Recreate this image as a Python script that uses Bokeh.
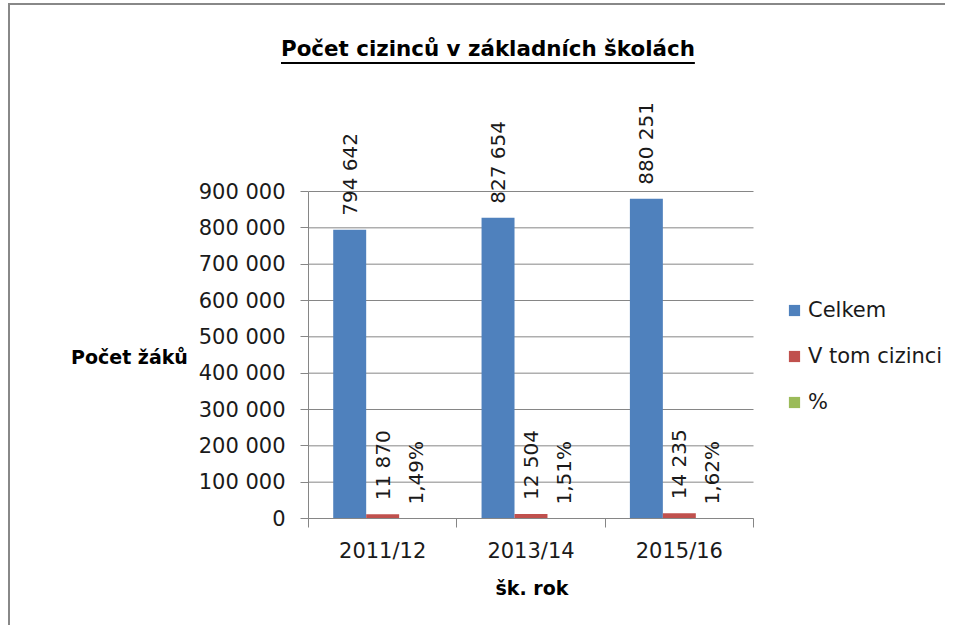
import math
from bokeh.plotting import figure
from bokeh.layouts import column, row
from bokeh.models import (FixedTicker, Legend, LegendItem, ColumnDataSource, Div, Title)
from bokeh.core.properties import value
from bokeh.embed import file_html
from bokeh.resources import INLINE

# ---- data ----
title_text = "Počet cizinců v základních školách"
y_title = "Počet žáků"
x_title = "šk. rok"
years = ["2011/12", "2013/14", "2015/16"]
celkem = [794642, 827654, 880251]
cizinci = [11870, 12504, 14235]
procenta = [1.49, 1.51, 1.62]
y_ticks = [0, 100000, 200000, 300000, 400000, 500000, 600000, 700000, 800000, 900000]
series_names = ["Celkem", "V tom cizinci", "%"]
colors = ["#4F81BD", "#C0504D", "#9BBB59"]

FONT = "DejaVu Sans"
TXT = "#1a1a1a"
GRID = "#868686"

def fmt_int(v):
    return f"{v:,}".replace(",", " ")

def fmt_pct(v):
    return f"{v:.2f}".replace(".", ",") + "%"

n = len(years)
bw = 1 / 4.5
centers = [i + 0.5 for i in range(n)]

# layout geometry (pixels)
YDIV_W = 173
W, H = 752, 542
BL, BT, BB = 115, 9, 97
FRAME_W_DATA = 445          # width of the category area in px
FRAME_H_DATA = 327          # height of 0..900 000 in px
frame_w = W - BL
frame_h = H - BT - BB
x_end = n * frame_w / FRAME_W_DATA
y_end = y_ticks[-1] * frame_h / FRAME_H_DATA

p = figure(width=W, height=H, output_backend="svg", toolbar_location=None,
           x_range=(0, x_end), y_range=(0, y_end),
           min_border_left=BL, min_border_right=0, min_border_top=BT, min_border_bottom=BB)
p.outline_line_color = None
p.background_fill_color = "white"
p.border_fill_color = "white"
p.xgrid.grid_line_color = None
p.ygrid.grid_line_color = None

# horizontal gridlines over the category area only
p.segment(x0=[0] * len(y_ticks), x1=[n] * len(y_ticks), y0=y_ticks, y1=y_ticks,
          line_color=GRID, line_width=1)

series_vals = [celkem, cizinci, [v / 100 for v in procenta]]
series_labels = [[fmt_int(v) for v in celkem], [fmt_int(v) for v in cizinci], [fmt_pct(v) for v in procenta]]
renderers = []
for k in range(3):
    xs = [c + (k - 1) * bw for c in centers]
    src = ColumnDataSource(dict(x=xs, top=series_vals[k], lab=series_labels[k]))
    r = p.vbar(x="x", top="top", width=bw, source=src, fill_color=colors[k], line_color=None)
    renderers.append(r)
    p.text(x="x", y="top", text="lab", source=src, angle=math.pi / 2, y_offset=-14,
           text_align="left", text_baseline="middle", text_font=value(FONT),
           text_font_size="20px", text_color=TXT)

# axes
yax = p.yaxis[0]
yax.bounds = (0, y_ticks[-1])
yax.ticker = FixedTicker(ticks=y_ticks, minor_ticks=[])
yax.major_label_overrides = {t: fmt_int(t) for t in y_ticks}
yax.major_label_text_font = FONT
yax.major_label_text_font_size = "21px"
yax.major_label_text_color = TXT
yax.major_tick_out = 8
yax.major_tick_in = 0
yax.major_tick_line_color = GRID
yax.axis_line_color = GRID
yax.major_label_standoff = 15

xax = p.xaxis[0]
xax.bounds = (0, n)
xax.ticker = FixedTicker(ticks=centers, minor_ticks=list(range(n + 1)))
xax.major_label_overrides = {c: y for c, y in zip(centers, years)}
xax.major_label_text_font = FONT
xax.major_label_text_font_size = "21px"
xax.major_label_text_color = TXT
xax.major_tick_line_color = None
xax.major_tick_out = 0
xax.major_tick_in = 0
xax.minor_tick_out = 9
xax.minor_tick_in = 0
xax.minor_tick_line_color = GRID
xax.axis_line_color = GRID
xax.major_label_standoff = 11

# x axis title, centred under the category area
p.add_layout(Title(text=x_title, align="left", offset=187, text_font=FONT,
                   text_font_size="19px", text_font_style="bold", text_color="#000000",
                   standoff=18), "below")

legend = Legend(items=[LegendItem(label=series_names[k], renderers=[renderers[k]]) for k in range(3)],
                location=(479, 104), orientation="vertical")
legend.label_text_font = FONT
legend.label_text_font_size = "21px"
legend.label_text_color = TXT
legend.glyph_width = 14
legend.glyph_height = 14
legend.label_height = 24
legend.spacing = 22
legend.label_standoff = 7
legend.padding = 0
legend.margin = 0
legend.border_line_color = None
legend.background_fill_alpha = 0
p.add_layout(legend, "center")

title = Div(text=('<div style="margin-left:266px; padding-top:24px; font-family:\'DejaVu Sans\'; '
                  'font-weight:bold; font-size:21.4px; color:#000; white-space:nowrap; '
                  'text-decoration:underline; text-decoration-thickness:2px; '
                  'text-underline-offset:6px;">' + title_text + '</div>'),
            width=YDIV_W + W, height=58)

ylab = Div(text=('<div style="margin-left:56px; padding-top:266px; font-family:\'DejaVu Sans\'; '
                 'font-weight:bold; font-size:19px; color:#000; white-space:nowrap;">'
                 + y_title + '</div>'),
           width=YDIV_W, height=H)

layout = column(title, row(ylab, p, spacing=0), spacing=0,
                styles={"border-left": "2px solid #888888", "border-top": "2px solid #888888",
                        "margin-top": "3px", "margin-left": "8px"})

open("out.html", "w").write(file_html(layout, INLINE))
